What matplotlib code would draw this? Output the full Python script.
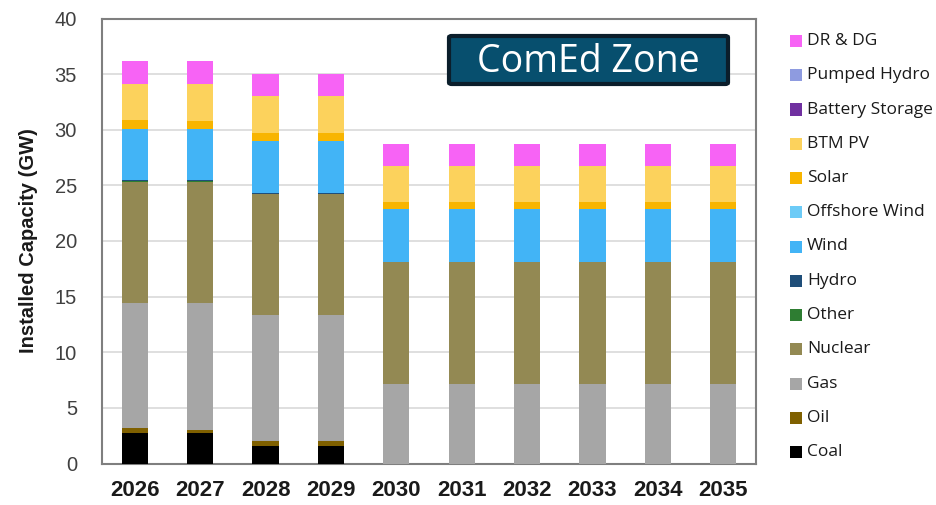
import matplotlib

matplotlib.use("Agg")
import matplotlib.pyplot as plt
from matplotlib.patches import Rectangle, FancyBboxPatch
import numpy as np

years = ["2026", "2027", "2028", "2029", "2030", "2031", "2032", "2033", "2034", "2035"]

# stacking order, bottom to top
categories = ["Coal", "Oil", "Gas", "Nuclear", "Other", "Hydro", "Wind", "Offshore Wind",
              "Solar", "BTM PV", "Battery Storage", "Pumped Hydro", "DR & DG"]
colors = ["#000000", "#7F6000", "#A6A6A6", "#938953", "#2E7D32", "#1F4E79", "#42B4F6",
          "#6CCBF7", "#F8B500", "#FCD25C", "#7030A0", "#8E9BE0", "#F763F5"]

coal = [2.7, 2.7, 1.55, 1.55, 0, 0, 0, 0, 0, 0]
oil = [0.5, 0.35, 0.45, 0.45, 0, 0, 0, 0, 0, 0]
gas = [11.2, 11.35, 11.35, 11.35, 7.15, 7.15, 7.15, 7.15, 7.15, 7.15]
nuclear = [10.9, 10.9, 10.85, 10.85, 11.0, 11.0, 11.0, 11.0, 11.0, 11.0]
other = [0.05, 0.05, 0.0, 0.0, 0, 0, 0, 0, 0, 0]
hydro = [0.1, 0.1, 0.12, 0.12, 0, 0, 0, 0, 0, 0]
wind = [4.6, 4.6, 4.65, 4.65, 4.7, 4.7, 4.7, 4.7, 4.7, 4.7]
offshore = [0] * 10
solar = [0.85, 0.7, 0.7, 0.7, 0.65, 0.65, 0.65, 0.65, 0.65, 0.65]
btm_pv = [3.2, 3.35, 3.35, 3.35, 3.2, 3.2, 3.2, 3.2, 3.2, 3.2]
battery = [0] * 10
pumped = [0] * 10
dr_dg = [2.05, 2.05, 1.95, 1.95, 2.05, 2.05, 2.05, 2.05, 2.05, 2.05]

series = [coal, oil, gas, nuclear, other, hydro, wind, offshore, solar, btm_pv,
          battery, pumped, dr_dg]

plt.rcParams["font.family"] = ["Liberation Sans", "DejaVu Sans"]

fig = plt.figure(figsize=(9.36, 5.05), dpi=100)
ax = fig.add_axes([102 / 936, 1 - 463.5 / 505, (756 - 102) / 936, (463.5 - 18.5) / 505])

x = np.arange(len(years))
bottom = np.zeros(len(years))
for vals, col in zip(series, colors):
    vals = np.array(vals, dtype=float)
    ax.bar(x, vals, width=0.4, bottom=bottom, color=col, zorder=3)
    bottom += vals

ax.set_xlim(-0.5, len(years) - 0.5)
ax.set_ylim(0, 40)
ax.set_yticks(np.arange(0, 41, 5))
ax.set_xticks(x)
ax.set_xticklabels(years, fontsize=16, fontweight="bold", color="#1a1a1a")
ax.tick_params(axis="y", length=0, pad=18, labelsize=14.5, labelcolor="#404040")
ax.tick_params(axis="x", length=0, pad=12)
ax.grid(axis="y", color="#D9D9D9", linewidth=1.2, zorder=0)
for s in ax.spines.values():
    s.set_color("#7F7F7F")
    s.set_linewidth(1.5)
ax.set_ylabel("Installed Capacity (GW)", fontsize=14.5, fontweight="bold", color="#1a1a1a", labelpad=12)

# title box
box = FancyBboxPatch((449 / 936, 1 - 84 / 505), 279 / 936, 48 / 505,
                     boxstyle="round,pad=0,rounding_size=0.003", transform=fig.transFigure,
                     facecolor="#074F6E", edgecolor="#0B1E2B", linewidth=3, zorder=5)
fig.patches.append(box)
fig.text(588 / 936, 1 - 62 / 505, "ComEd Zone", ha="center", va="center", color="white",
         fontsize=27, family=["Open Sans", "DejaVu Sans"], zorder=6)

# legend, top to bottom
y0 = 41
for i, (name, col) in enumerate(zip(categories[::-1], colors[::-1])):
    yc = y0 + i * 34.25
    fig.patches.append(Rectangle((790 / 936, 1 - (yc + 6) / 505), 12 / 936, 12 / 505,
                                 transform=fig.transFigure, facecolor=col, edgecolor="none"))
    fig.text(807 / 936, 1 - yc / 505, name, ha="left", va="center", fontsize=12.5,
             color="#1a1a1a", family=["Open Sans", "DejaVu Sans"])

fig.savefig("out.png", dpi=100)
